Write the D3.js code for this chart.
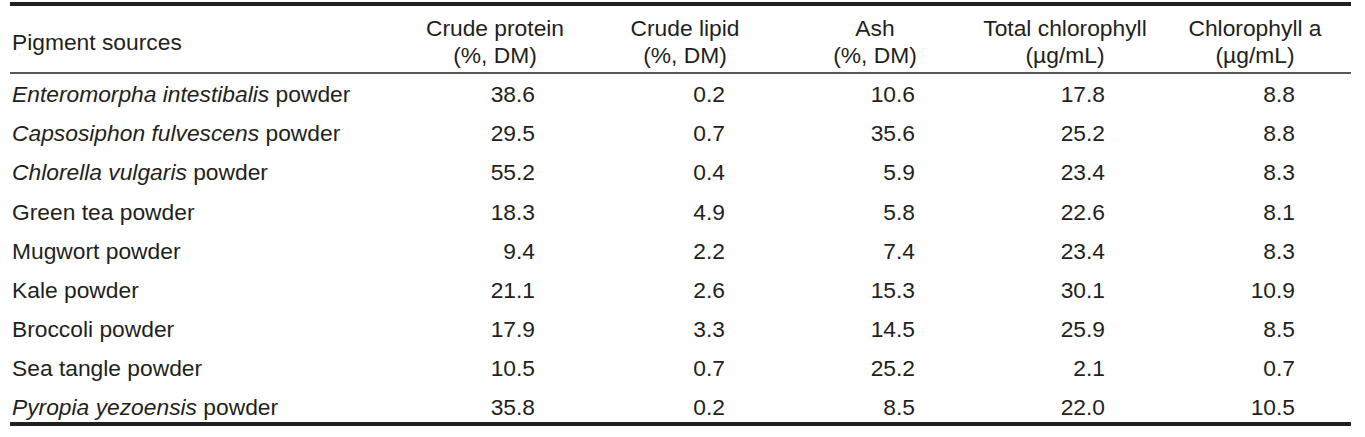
<!DOCTYPE html>
<html>
<head>
<meta charset="utf-8">
<script src="https://cdn.jsdelivr.net/npm/d3@7"></script>
<style>
  html, body { margin: 0; padding: 0; background: #fff; }
  svg { display: block; }
  text { font-family: "Liberation Sans", Arial, Helvetica, sans-serif; fill: #231f20; }
</style>
</head>
<body>
<svg id="chart" width="1365" height="437"></svg>
<script>
// ---- Data ----
const sourceItalic = ["Enteromorpha intestibalis", "Capsosiphon fulvescens", "Chlorella vulgaris", "", "", "", "", "", "Pyropia yezoensis"];
const sourcePlain = ["powder", "powder", "powder", "Green tea powder", "Mugwort powder", "Kale powder", "Broccoli powder", "Sea tangle powder", "powder"];
const columnHeaders = [
  ["Crude protein", "(%, DM)"],
  ["Crude lipid", "(%, DM)"],
  ["Ash", "(%, DM)"],
  ["Total chlorophyll", "(\u00b5g/mL)"],
  ["Chlorophyll a", "(\u00b5g/mL)"]
];
const firstHeader = "Pigment sources";
const crudeProtein = [38.6, 29.5, 55.2, 18.3, 9.4, 21.1, 17.9, 10.5, 35.8];
const crudeLipid = [0.2, 0.7, 0.4, 4.9, 2.2, 2.6, 3.3, 0.7, 0.2];
const ash = [10.6, 35.6, 5.9, 5.8, 7.4, 15.3, 14.5, 25.2, 8.5];
const totalChlorophyll = [17.8, 25.2, 23.4, 22.6, 23.4, 30.1, 25.9, 2.1, 22.0];
const chlorophyllA = [8.8, 8.8, 8.3, 8.1, 8.3, 10.9, 8.5, 0.7, 10.5];

const series = [crudeProtein, crudeLipid, ash, totalChlorophyll, chlorophyllA];

// ---- Layout ----
const svg = d3.select("#chart");
const fontSize = 22.8;
const left = 10, right = 1351;
const ink = "#231f20";
const fmt = d3.format(".1f");

const rowIdx = d3.range(sourcePlain.length);
const y = d3.scaleLinear().domain([0, rowIdx.length - 1]).range([102.3, 415]);
const colIdx = d3.range(series.length);
const xRight = d3.scalePoint().domain(colIdx).range([535, 1295]);
const headerOffset = 40;

// Rules
svg.append("line").attr("x1", left).attr("x2", right).attr("y1", 4).attr("y2", 4)
  .attr("stroke", ink).attr("stroke-width", 4);
svg.append("line").attr("x1", left).attr("x2", right).attr("y1", 73).attr("y2", 73)
  .attr("stroke", ink).attr("stroke-width", 1.4);
svg.append("line").attr("x1", left).attr("x2", right).attr("y1", 424).attr("y2", 424)
  .attr("stroke", ink).attr("stroke-width", 4);

// Header
svg.append("text").attr("x", 12).attr("y", 49.5).attr("font-size", fontSize).text(firstHeader);

const hdr = svg.selectAll("g.hdr").data(columnHeaders).join("g").attr("class", "hdr");
hdr.append("text")
  .attr("x", (d, i) => xRight(i) - headerOffset).attr("y", 36)
  .attr("text-anchor", "middle").attr("font-size", fontSize)
  .text(d => d[0]);
hdr.append("text")
  .attr("x", (d, i) => xRight(i) - headerOffset).attr("y", 63.3)
  .attr("text-anchor", "middle").attr("font-size", fontSize)
  .text(d => d[1]);

// Row labels
const labels = svg.selectAll("text.lab").data(rowIdx).join("text").attr("class", "lab")
  .attr("x", 12).attr("y", i => y(i)).attr("font-size", fontSize);
labels.each(function(i) {
  const t = d3.select(this);
  if (sourceItalic[i]) {
    t.append("tspan").attr("font-style", "italic").text(sourceItalic[i]);
    t.append("tspan").text(" " + sourcePlain[i]);
  } else {
    t.append("tspan").text(sourcePlain[i]);
  }
});

// Values
series.forEach((vals, c) => {
  svg.selectAll("text.v" + c).data(vals).join("text").attr("class", "v" + c)
    .attr("x", xRight(c)).attr("y", (d, i) => y(i))
    .attr("text-anchor", "end").attr("font-size", fontSize)
    .text(d => fmt(d));
});
</script>
</body>
</html>
